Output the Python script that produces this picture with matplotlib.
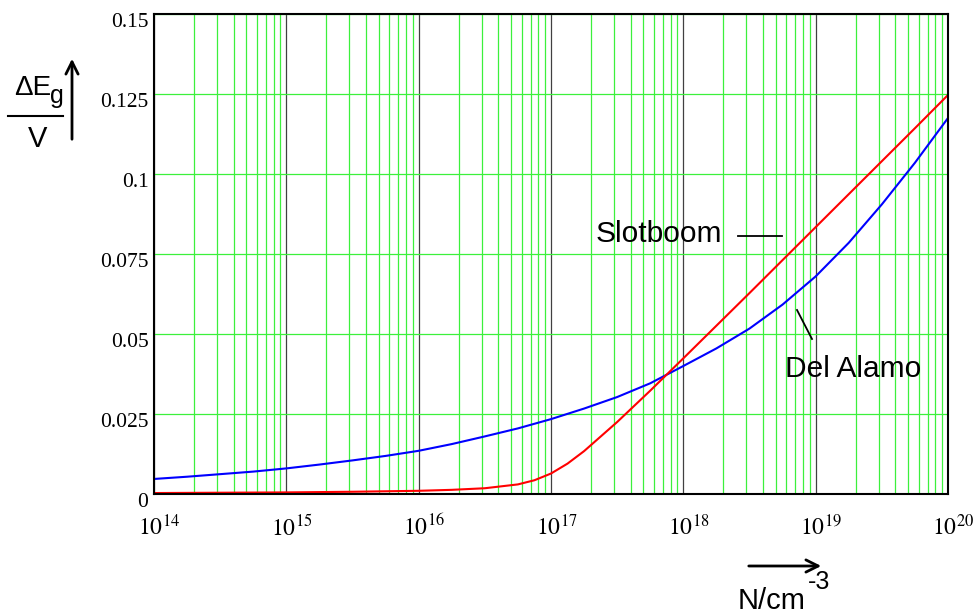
import matplotlib
matplotlib.use('Agg')
import numpy as np
import matplotlib.pyplot as plt
from matplotlib.lines import Line2D
from matplotlib.patches import FancyArrowPatch
from matplotlib.ticker import LogLocator, NullFormatter
from matplotlib.transforms import ScaledTranslation

# Doping exponents (log10 N) and band gap narrowing in V
log_n_slot = [14.0, 14.5, 15.0, 15.5, 16.0, 16.25, 16.5, 16.75, 16.875, 17.0,
              17.125, 17.25, 17.5, 17.75, 18.0, 18.25, 18.5, 18.75, 19.0,
              19.25, 19.5, 19.75, 20.0]
slotboom = [0.0003, 0.0004, 0.0005, 0.0007, 0.0010, 0.0013, 0.0018, 0.0030, 0.0043, 0.0064,
            0.0095, 0.0134, 0.0225, 0.0323, 0.0424, 0.0526, 0.0628, 0.0731, 0.0834,
            0.0937, 0.1040, 0.1143, 0.1247]

log_n_alamo = [14.0, 14.25, 14.5, 14.75, 15.0, 15.25, 15.5, 15.75, 16.0, 16.25,
               16.5, 16.75, 17.0, 17.25, 17.5, 17.75, 18.0, 18.25, 18.5, 18.75,
               19.0, 19.25, 19.5, 19.75, 20.0]
del_alamo = [0.0047, 0.0054, 0.0062, 0.0070, 0.0080, 0.0092, 0.0105, 0.0119, 0.0135, 0.0156,
             0.0180, 0.0205, 0.0234, 0.0267, 0.0303, 0.0346, 0.0400, 0.0455, 0.0517, 0.0592,
             0.0680, 0.0785, 0.0905, 0.1035, 0.1175]

x_ticks = [1e14, 1e15, 1e16, 1e17, 1e18, 1e19, 1e20]
x_labels = ['$10^{14}$', '$10^{15}$', '$10^{16}$', '$10^{17}$', '$10^{18}$', '$10^{19}$', '$10^{20}$']
y_ticks = [0, 0.025, 0.05, 0.075, 0.1, 0.125, 0.15]
y_labels = ['0', '0.025', '0.05', '0.075', '0.1', '0.125', '0.15']

plt.rcParams['mathtext.fontset'] = 'stix'
W, H = 976, 614


def fp(x, y):
    # pixel position -> figure fraction
    return x / W, 1 - y / H


fig = plt.figure(figsize=(W / 100, H / 100), dpi=100)
ax = fig.add_axes([154 / W, 1 - 494 / H, (948 - 154) / W, (494 - 14) / H])

ax.plot(10 ** np.array(log_n_alamo), del_alamo, color='#0000ff', lw=1.5, zorder=3)
ax.plot(10 ** np.array(log_n_slot), slotboom, color='#ff0000', lw=1.5, zorder=3)

ax.set_xscale('log')
ax.set_xlim(1e14, 1e20)
ax.set_ylim(0, 0.15)
ax.set_xticks(x_ticks)
ax.set_xticklabels(x_labels, fontsize=17)
ax.xaxis.set_minor_locator(LogLocator(base=10, subs=range(2, 10)))
ax.xaxis.set_minor_formatter(NullFormatter())
ax.set_yticks(y_ticks)
ax.set_yticklabels(y_labels, fontsize=15.5, family='Liberation Serif')
ax.tick_params(which='both', length=0)
ax.tick_params(axis='x', pad=15)
ax.tick_params(axis='y', pad=4)

ax.grid(which='minor', axis='x', color='#3cf03c', lw=0.9)
ax.grid(which='major', axis='y', color='#3cf03c', lw=0.9)
ax.grid(which='major', axis='x', color='#404040', lw=0.9)
ax.set_axisbelow(True)
for s in ax.spines.values():
    s.set_linewidth(1.5)
    s.set_zorder(4)

for lab in ax.get_yticklabels():
    lab.set_transform(lab.get_transform() + ScaledTranslation(0, -4.5 / 72, fig.dpi_scale_trans))
for lab in ax.get_xticklabels():
    lab.set_transform(lab.get_transform() + ScaledTranslation(4 / 72, 0, fig.dpi_scale_trans))

sans = 'Liberation Sans'

# y axis label: dEg / V with arrow
fig.text(*fp(14, 95), '\u0394E', fontsize=20, family=sans, va='baseline')
fig.text(*fp(50, 103), 'g', fontsize=18, family=sans, va='baseline')
fig.add_artist(Line2D([8 / W, 63 / W], [1 - 116 / H] * 2, color='black', lw=1.5))
fig.text(*fp(28, 147), 'V', fontsize=21, family=sans, va='baseline')
fig.add_artist(FancyArrowPatch(fp(72, 142), fp(72, 56), transform=fig.transFigure,
                               arrowstyle='->', mutation_scale=22, lw=2, color='black'))

# x axis label: N/cm^-3 with arrow
fig.add_artist(FancyArrowPatch(fp(746, 566), fp(824, 566), transform=fig.transFigure,
                               arrowstyle='->', mutation_scale=22, lw=2, color='black'))
fig.text(*fp(738, 609), 'N/cm', fontsize=21, family=sans, va='baseline')
fig.text(*fp(808, 589), '-3', fontsize=18, family=sans, va='baseline')

# curve annotations
fig.text(*fp(596, 242), 'Slotboom', fontsize=21.5, family=sans, va='baseline')
fig.add_artist(Line2D([738 / W, 782 / W], [1 - 236 / H] * 2, color='black', lw=1.3))
fig.text(*fp(785, 377), 'Del Alamo', fontsize=21.5, family=sans, va='baseline')
fig.add_artist(Line2D([797 / W, 812 / W], [1 - 310 / H, 1 - 339 / H], color='black', lw=1.3))

fig.savefig('out.png', dpi=100, facecolor='white')
